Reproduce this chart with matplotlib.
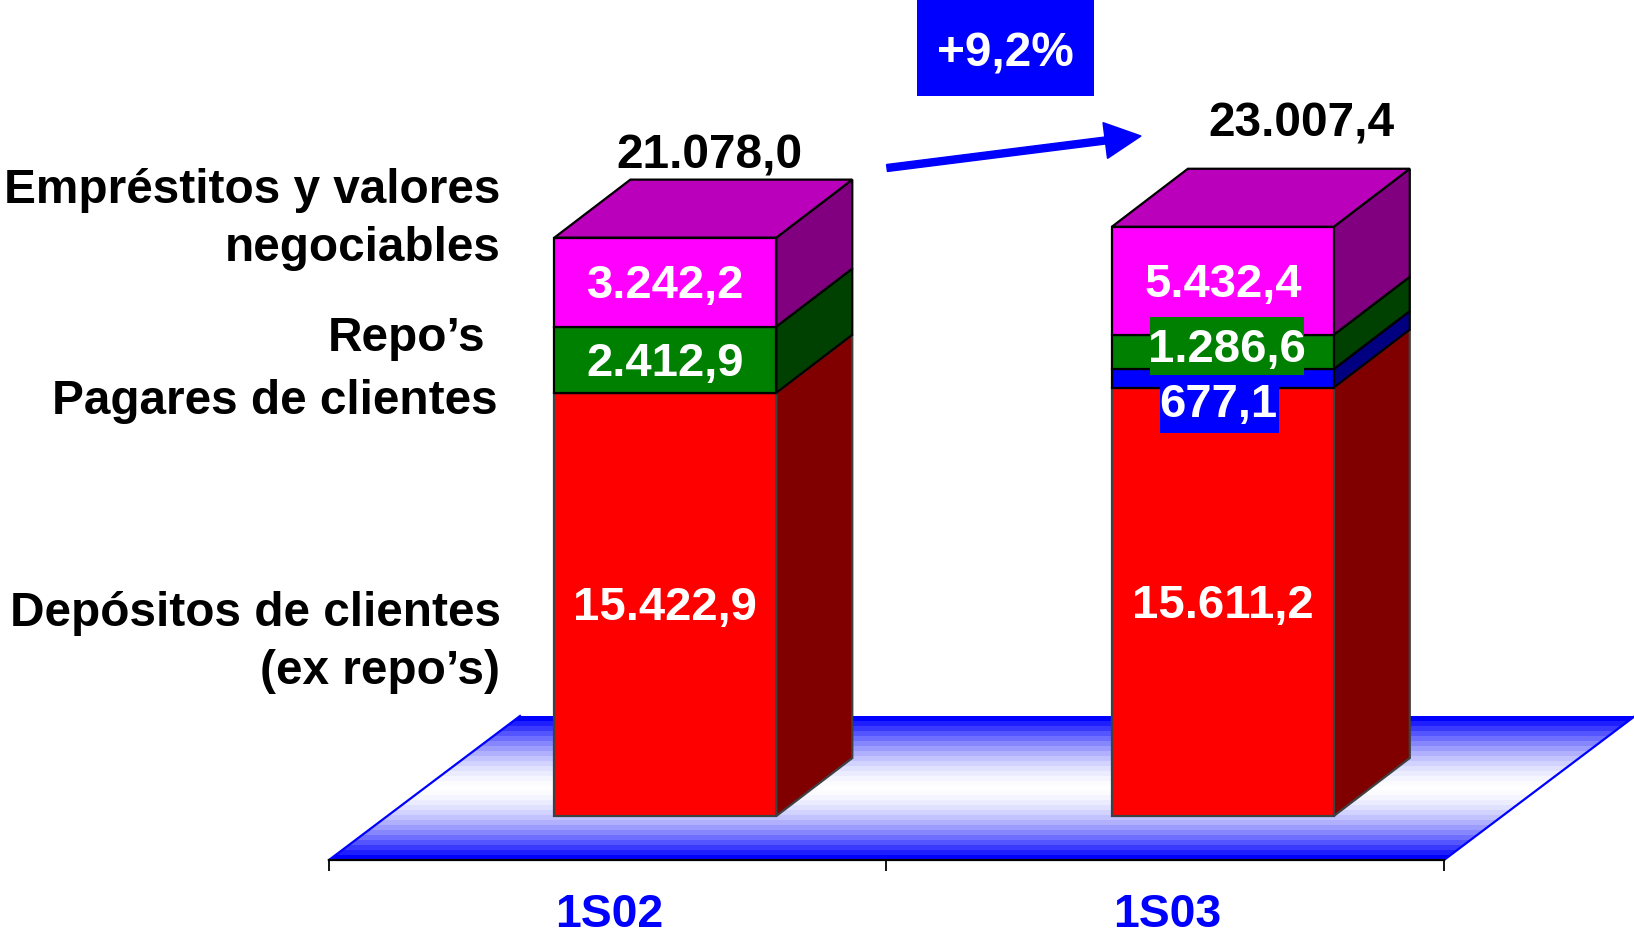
import numpy as np
from matplotlib import pyplot as plt
from matplotlib.patches import Polygon, Rectangle, FancyArrow
from matplotlib.transforms import Affine2D, ScaledTranslation

plt.rcParams['font.family'] = ['Liberation Sans', 'DejaVu Sans']
plt.rcParams['font.weight'] = 'bold'

W, H = 1634, 935

# %%
# data
periods = ['1S02', '1S03']
totals = ['21.078,0', '23.007,4']
growth = '+9,2%'

# heights as drawn; the upper 1S03 segments are drawn shorter than their labels say
depositos = [15422.9, 15611.2]
pagares = [0, 677.1]
repos = [2412.9, 1250.0]
empresitos = [3242.2, 3936.0]

depositos_lbl = ['15.422,9', '15.611,2']
pagares_lbl = ['', '677,1']
repos_lbl = ['2.412,9', '1.286,6']
empresitos_lbl = ['3.242,2', '5.432,4']

series = [(depositos, depositos_lbl, '#ff0000', '#800000', '#404040'),
          (pagares, pagares_lbl, '#0000ff', '#000080', 'black'),
          (repos, repos_lbl, '#008000', '#004000', 'black'),
          (empresitos, empresitos_lbl, '#ff00ff', '#800080', 'black')]

# %%
px_per_unit = 0.02744
x_unit = 557.5
y0_px = 816.0
x0_px = 607.75

fig = plt.figure(figsize=(W / 100, H / 100), dpi=100)
ax = fig.add_axes([0, 0, 1, 1])
ax.patch.set_visible(False)
ax.set_xlim(-x0_px / x_unit, (W - x0_px) / x_unit)
ax.set_ylim(-(H - y0_px) / px_per_unit, y0_px / px_per_unit)

# pixels counted from the top left, for the annotations
px = Affine2D().scale(1, -1).translate(0, H)

bar_w = 0.398
bar_off = 0.1033
dx = 76 / x_unit
dy = 58 / px_per_unit
floor_y = -44 / px_per_unit
floor_back = 100 / px_per_unit
floor_dx = 191 / x_unit

# floor with banded gradient
t = np.abs(np.linspace(-1, 1, 29))
shade = 1 - t ** 1.7
grad = np.ones((29, 1, 3))
grad[:, 0, 0] = shade
grad[:, 0, 1] = shade
im = ax.imshow(grad, extent=[-0.5, 1.5 + floor_dx, floor_y, floor_back], aspect='auto',
               interpolation='nearest', zorder=1)
ax.set_xlim(-x0_px / x_unit, (W - x0_px) / x_unit)
ax.set_ylim(-(H - y0_px) / px_per_unit, y0_px / px_per_unit)
floor = Polygon([(-0.5, floor_y), (1.5, floor_y), (1.5 + floor_dx, floor_back), (-0.5 + floor_dx, floor_back)],
                closed=True, transform=ax.transData, fill=False, edgecolor='none')
ax.add_patch(floor)
im.set_clip_path(floor)
for x_start in [-0.5, 1.5]:
    ax.plot([x_start, x_start + floor_dx], [floor_y, floor_back], color='#0000ff', lw=1.6, zorder=1.5)

# stacked bars
xs = np.arange(len(periods)) + bar_off
bottom = np.zeros(len(periods))
for vals, lbls, front, side, edge in series:
    vals = np.array(vals)
    ax.bar(xs, vals, width=bar_w, bottom=bottom, color=front, edgecolor=edge, linewidth=1.6, zorder=3)
    for x, b, v in zip(xs, bottom, vals):
        if v == 0:
            continue
        r = x + bar_w / 2
        ax.add_patch(Polygon([(r, b), (r + dx, b + dy), (r + dx, b + v + dy), (r, b + v)],
                             closed=True, facecolor=side, edgecolor=edge, linewidth=1.6, zorder=2.5))
    bottom = bottom + vals

# top faces
for x, top in zip(xs, bottom):
    l, r = x - bar_w / 2, x + bar_w / 2
    ax.add_patch(Polygon([(l, top), (r, top), (r + dx, top + dy), (l + dx, top + dy)],
                         closed=True, facecolor='#bb00bb', edgecolor='black', linewidth=1.6, zorder=3))

# value labels
fs = 34
fs_big = 34.4
bottom = np.zeros(len(periods))
for vals, lbls, front, side, edge in series:
    vals = np.array(vals)
    for x, b, v, lbl in zip(xs, bottom, vals, lbls):
        if lbl and lbl not in ('1.286,6', '677,1'):
            ax.annotate(lbl, (x, b + v / 2), xytext=(0, 0.8), textcoords='offset points', color='white',
                        fontsize=fs, ha='center', va='center_baseline', zorder=6)
    bottom = bottom + vals

# small segments of 1S03 carry their labels on boxes
ax.add_patch(Rectangle((1160, 375), 119, 58, transform=px, facecolor='#0000ff', edgecolor='none', zorder=4))
ax.text(1218.5, 400, pagares_lbl[1], transform=px, color='white', fontsize=fs, ha='center', va='center_baseline', zorder=6)
ax.add_patch(Rectangle((1150, 317), 154, 58, transform=px, facecolor='#008000', edgecolor='none', zorder=5))
ax.text(1227, 345, repos_lbl[1], transform=px, color='white', fontsize=fs, ha='center', va='center_baseline', zorder=6)

# totals
ax.text(709.5, 151, totals[0], transform=px, color='black', fontsize=fs_big, ha='center', va='center_baseline', zorder=6)
ax.text(1301.7, 119, totals[1], transform=px, color='black', fontsize=fs_big, ha='center', va='center_baseline', zorder=6)

# growth box and arrow
ax.add_patch(Rectangle((917, 0), 177, 96, transform=px, facecolor='#0000ff', edgecolor='none', zorder=5))
ax.text(1005, 48.5, growth, transform=px, color='white', fontsize=fs_big, ha='center', va='center_baseline', zorder=6)
ax.add_patch(FancyArrow(887, 168, 254, -32, width=7, head_width=36, head_length=36, length_includes_head=True,
                        transform=px, color='#0000ff', zorder=5))

# series names on the left
names = [('Empréstitos y valores', 500.5, 185.5), ('negociables', 500.5, 243.5),
         ('Repo’s', 485, 333.5), ('Pagares de clientes', 497.5, 397),
         ('Depósitos de clientes', 500.5, 608), ('(ex repo’s)', 500.5, 666)]
for name, x, y in names:
    ax.text(x, y, name, transform=px, color='black', fontsize=fs_big, ha='right', va='center_baseline', zorder=6)

# axis
for s in ['top', 'left', 'right']:
    ax.spines[s].set_visible(False)
ax.spines['bottom'].set_position(('data', floor_y))
ax.spines['bottom'].set_bounds(-0.5, 1.5)
ax.spines['bottom'].set_linewidth(1.6)
ax.spines['bottom'].set_zorder(2)
ax.set_yticks([])
ax.set_xticks([0, 1])
ax.set_xticklabels(periods, color='#0000ff', fontsize=33.4)
ax.set_xticks([-0.5, 0.5, 1.5], minor=True)
ax.tick_params(axis='x', which='major', length=0, pad=23.5)
ax.tick_params(axis='x', which='minor', length=8, width=1.3, direction='out')
shift = ScaledTranslation(2 / 100, 0, fig.dpi_scale_trans)
for lab in ax.get_xticklabels():
    lab.set_transform(lab.get_transform() + shift)

fig.savefig('out.png', dpi=100)
